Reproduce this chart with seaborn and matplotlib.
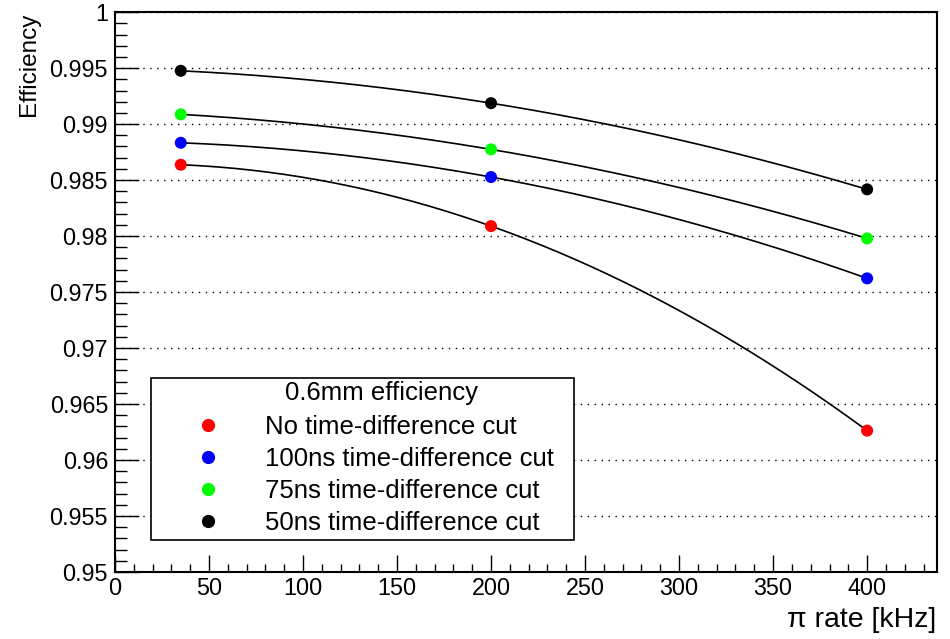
import numpy as np
import pandas as pd
import matplotlib
matplotlib.use("Agg")
import matplotlib.pyplot as plt
import seaborn as sns
from matplotlib.ticker import MultipleLocator, FuncFormatter
from matplotlib.lines import Line2D

# ---- data ----
rate_khz = [35, 200, 400]
series_names = [
    "No time-difference cut",
    "100ns time-difference cut",
    "75ns time-difference cut",
    "50ns time-difference cut",
]
eff_no_cut = [0.98637, 0.98089, 0.96262]
eff_100ns = [0.98833, 0.98527, 0.97622]
eff_75ns = [0.99087, 0.98774, 0.97979]
eff_50ns = [0.99476, 0.99187, 0.98417]
series_colors = ["#ff0000", "#0000ff", "#00ff00", "#000000"]
legend_title = "0.6mm efficiency"
x_label = "π rate [kHz]"
y_label = "Efficiency"

all_eff = [eff_no_cut, eff_100ns, eff_75ns, eff_50ns]
rows = []
for name, vals in zip(series_names, all_eff):
    for r, v in zip(rate_khz, vals):
        rows.append({"rate": r, "eff": v, "series": name})
df = pd.DataFrame(rows)

# quadratic fit curves (pol2) through each series
fit_rows = []
xs = np.linspace(min(rate_khz), max(rate_khz), 300)
for name, vals in zip(series_names, all_eff):
    coef = np.polyfit(rate_khz, vals, 2)
    ys = np.polyval(coef, xs)
    for xv, yv in zip(xs, ys):
        fit_rows.append({"rate": xv, "eff": yv, "series": name})
fit_df = pd.DataFrame(fit_rows)

# ---- style ----
sns.set_style("ticks")
plt.rcParams["font.family"] = ["Liberation Sans", "DejaVu Sans"]
plt.rcParams["text.color"] = "black"
plt.rcParams["axes.labelcolor"] = "black"
plt.rcParams["xtick.color"] = "black"
plt.rcParams["ytick.color"] = "black"
plt.rcParams["xtick.labelcolor"] = "black"
plt.rcParams["ytick.labelcolor"] = "black"

fig = plt.figure(figsize=(9.5, 6.39), dpi=100)
ax = fig.add_axes([0.121, 0.105, 0.865, 0.876])

sns.lineplot(data=fit_df, x="rate", y="eff", units="series", estimator=None,
             color="black", linewidth=1.2, ax=ax, legend=False, zorder=3)
palette = dict(zip(series_names, series_colors))
sns.scatterplot(data=df, x="rate", y="eff", hue="series", palette=palette,
                s=75, edgecolor="none", linewidth=0, ax=ax, legend=False, zorder=5)

ax.set_xlim(0, 437)
ax.set_ylim(0.95, 1.0)

ax.xaxis.set_major_locator(MultipleLocator(50))
ax.xaxis.set_minor_locator(MultipleLocator(10))
ax.yaxis.set_major_locator(MultipleLocator(0.005))
ax.yaxis.set_minor_locator(MultipleLocator(0.001))
ax.yaxis.set_major_formatter(FuncFormatter(lambda v, p: f"{v:.4g}"))
ax.xaxis.set_major_formatter(FuncFormatter(lambda v, p: f"{v:g}"))

ax.tick_params(axis="both", which="both", direction="in", top=False, right=False,
               color="black", labelcolor="black", width=1)
ax.tick_params(axis="y", which="major", length=17, pad=5, labelsize=16.8)
ax.tick_params(axis="y", which="minor", length=8.5)
ax.tick_params(axis="x", which="major", length=12, pad=4, labelsize=16.8)
ax.tick_params(axis="x", which="minor", length=6)

ax.yaxis.grid(True, which="major", color="black", linestyle=(0, (1, 4)), linewidth=1)
ax.xaxis.grid(False)

for sp in ax.spines.values():
    sp.set_color("black")
    sp.set_linewidth(1.5)
    sp.set_visible(True)

ax.set_xlabel(x_label, fontsize=20.5, loc="right", labelpad=5, color="black")
ax.set_ylabel(y_label, fontsize=17.5, loc="top", labelpad=7, color="black")

handles = [Line2D([0], [0], marker="o", linestyle="", markersize=8.5,
                  markerfacecolor=c, markeredgecolor=c) for c in series_colors]
# legend with a blank title row; the title text is placed over it (ROOT-style offset)
leg = ax.legend(handles, series_names, title=" ",
                loc="lower left", bbox_to_anchor=(0.0438, 0.0571, 0.5146, 0.2875),
                mode="expand", borderaxespad=0, fontsize=18.5, title_fontsize=18.5,
                frameon=True, fancybox=False, edgecolor="black",
                handlelength=4.08, handletextpad=0.18, borderpad=0.18,
                labelspacing=0.32)
leg.get_frame().set_linewidth(1.2)
leg.get_frame().set_facecolor("white")
leg.get_frame().set_alpha(1)
leg.set_zorder(10)
for t in leg.get_texts():
    t.set_color("black")

ax.text(0.3248, 0.3196, legend_title, transform=ax.transAxes, ha="center",
        va="center", fontsize=18.5, color="black", zorder=11)

fig.savefig("out.png", dpi=100)
